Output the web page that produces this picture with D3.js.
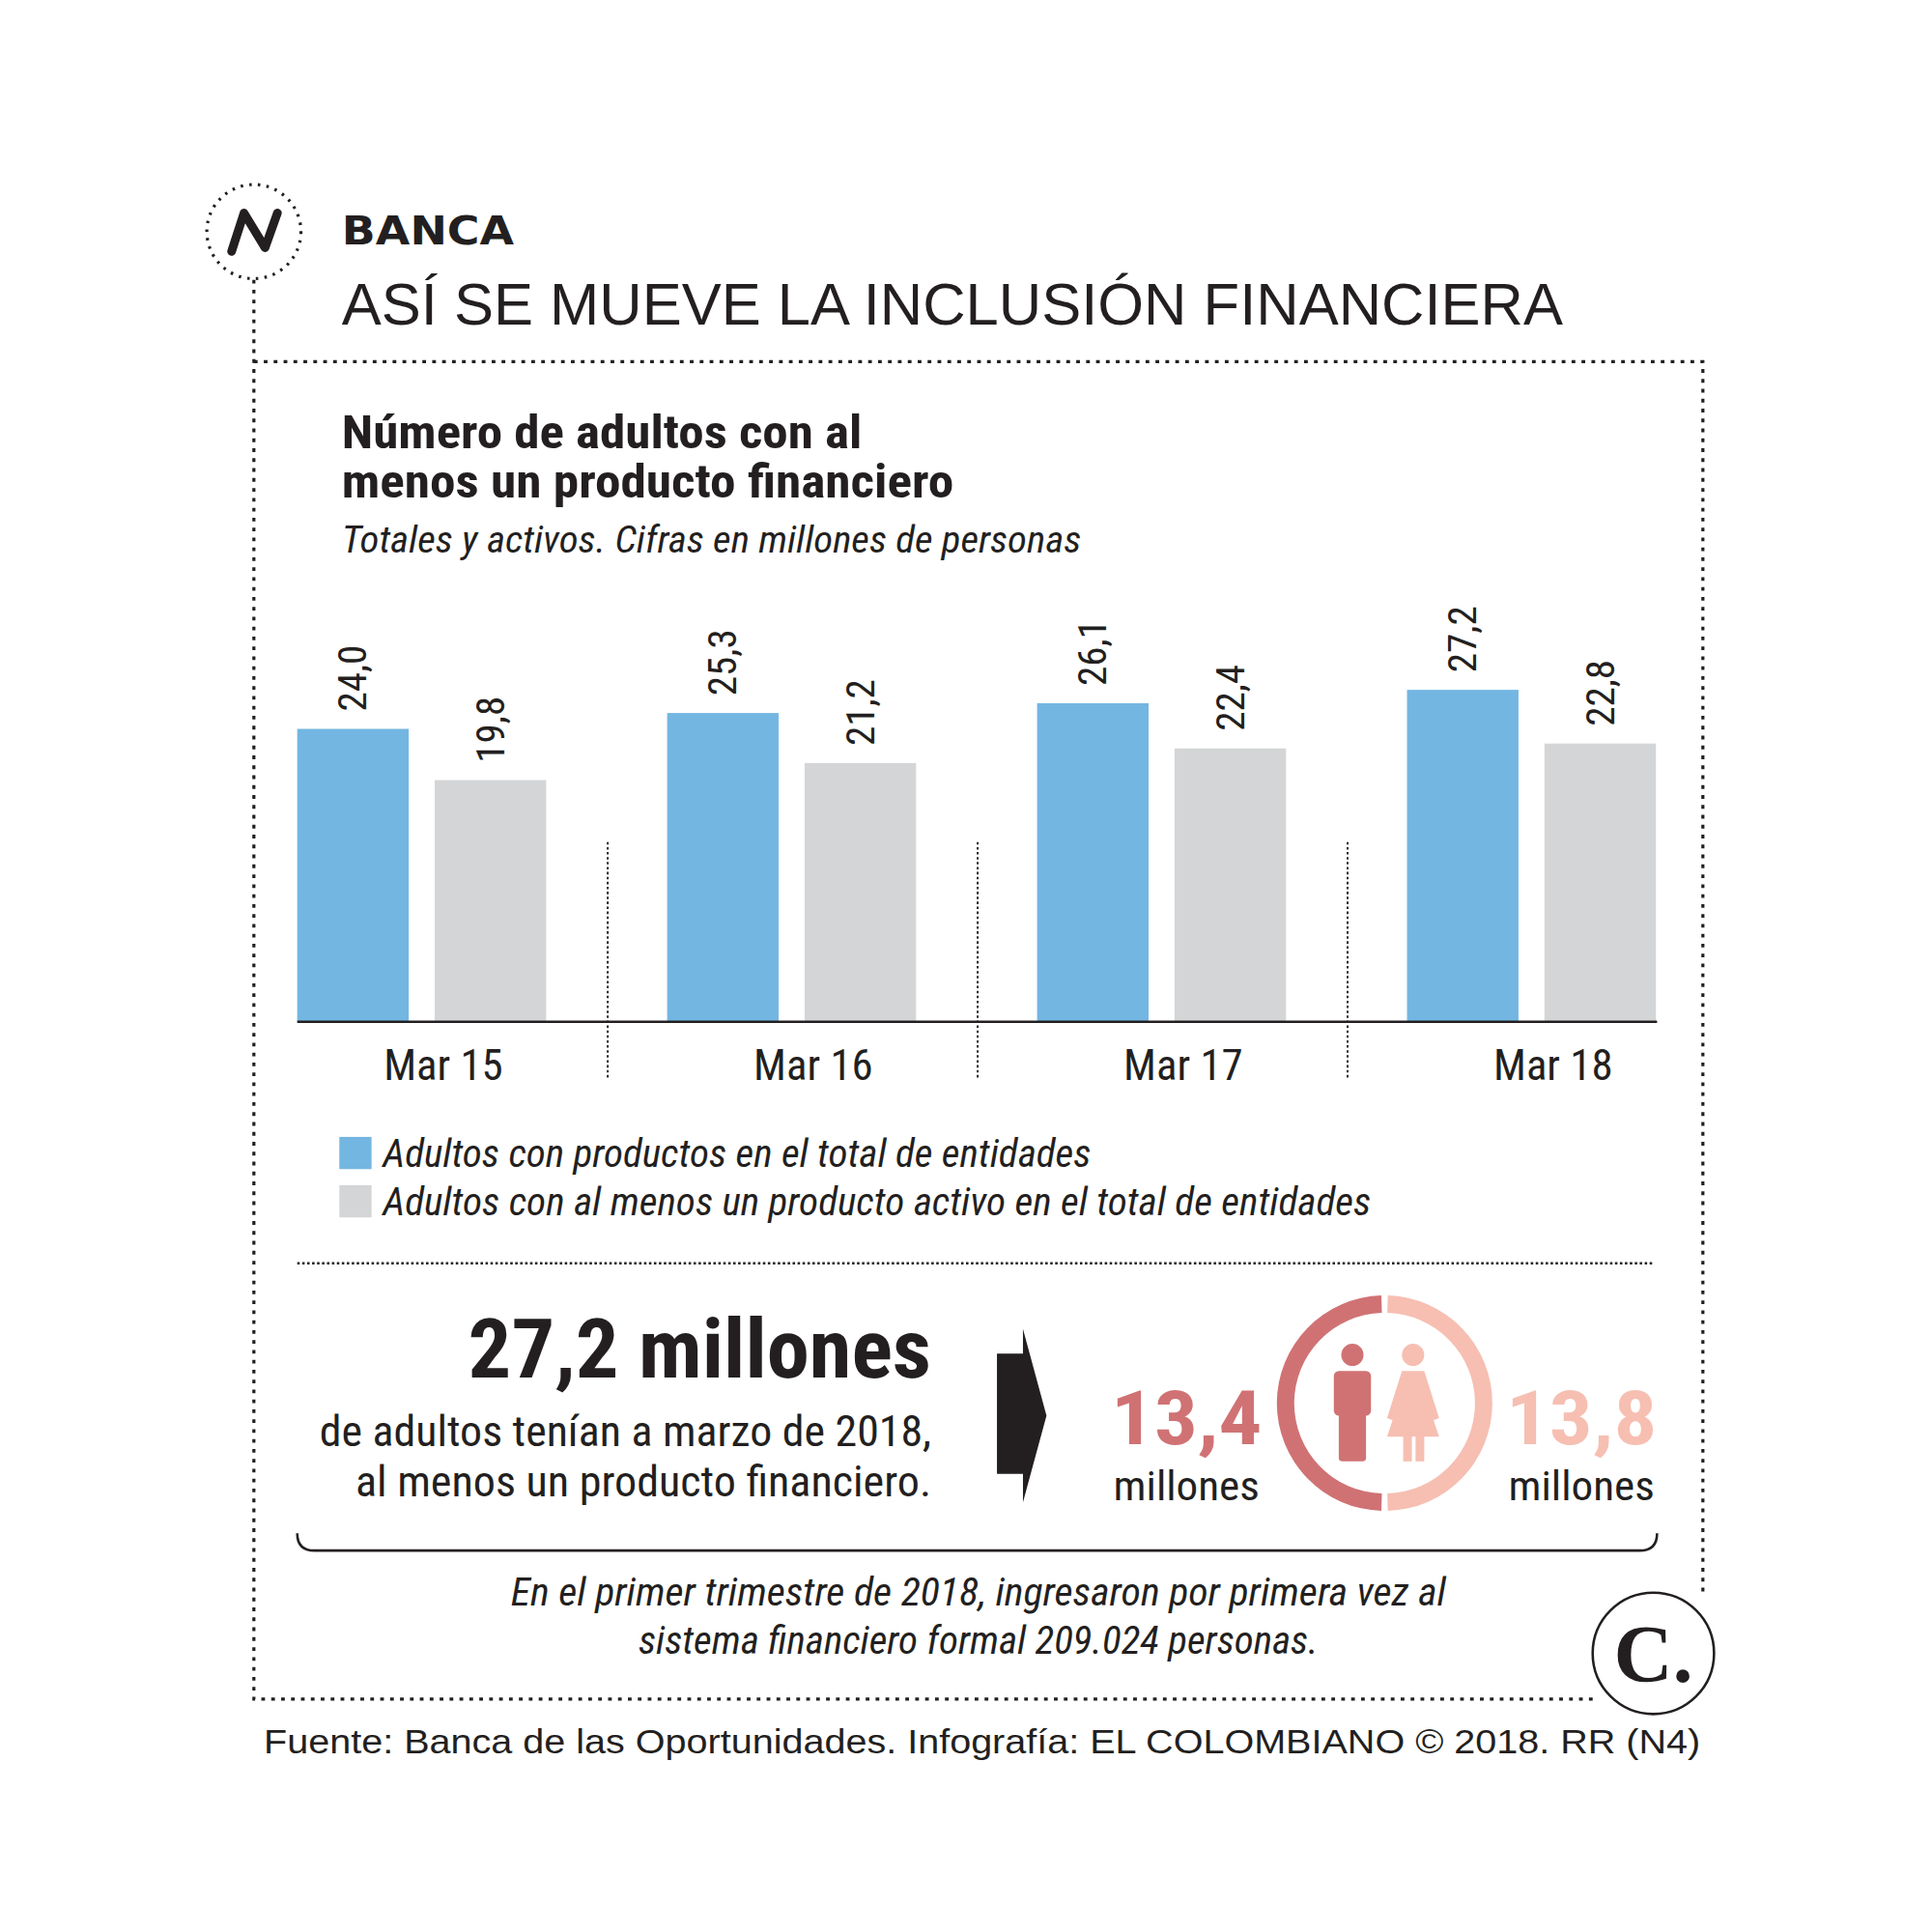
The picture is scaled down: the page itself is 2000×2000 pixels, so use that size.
<!DOCTYPE html>
<html><head><meta charset="utf-8">
<script src="https://cdn.jsdelivr.net/npm/d3@7"></script>
<style>body{margin:0;background:#fff}</style></head>
<body><svg id="c" width="2000" height="2000" viewBox="0 0 1560 1560"></svg>
<script>
const categories=["Mar 15","Mar 16","Mar 17","Mar 18"];
const seriesNames=["Adultos con productos en el total de entidades","Adultos con al menos un producto activo en el total de entidades"];
const totales=[24.0,25.3,26.1,27.2];
const activos=[19.8,21.2,22.4,22.8];
const hombres=13.4, mujeres=13.8;
const colors=["#74b6e2","#d4d5d7"];
const fmt=v=>v.toFixed(1).replace(".",",");
const NARROW="'Liberation Sans Narrow','Roboto Condensed',Roboto,sans-serif";
const svg=d3.select("#c");
const blk="#231f20";

// header
svg.append("circle").attr("cx",205).attr("cy",187).attr("r",38).attr("fill","none").attr("stroke",blk).attr("stroke-width",2.5).attr("stroke-dasharray","2,5");
svg.append("path").attr("d","M187,203 L197,172 L214,200 L224,172").attr("fill","none").attr("stroke",blk).attr("stroke-width",7).attr("stroke-linecap","round").attr("stroke-linejoin","round");
svg.append("text").attr("x",276).attr("y",197).text("BANCA").attr("font-family","'DejaVu Sans',sans-serif").attr("font-weight","bold").attr("font-size",32).attr("fill",blk).attr("textLength",139);
svg.append("text").attr("x",276).attr("y",262).text("ASÍ SE MUEVE LA INCLUSIÓN FINANCIERA").attr("font-family","'Liberation Sans',Arial,sans-serif").attr("font-size",47.5).attr("fill",blk).attr("textLength",986);
// frame
svg.append("path").attr("d","M205,226 L205,1372 L1290,1372 M205,292 L1375,292 L1375,1290")
 .attr("stroke",blk).attr("stroke-width",2.5).attr("stroke-dasharray","3,5").attr("fill","none");
// chart title
const nt=svg.append("g").attr("font-family",NARROW).attr("font-weight","bold").attr("font-size",37).attr("fill",blk);
nt.append("text").attr("x",276).attr("y",362).text("Número de adultos con al").attr("textLength",420);
nt.append("text").attr("x",276).attr("y",402).text("menos un producto financiero").attr("textLength",494);
svg.append("text").attr("x",276).attr("y",446).text("Totales y activos. Cifras en millones de personas").attr("font-family",NARROW).attr("font-style","italic").attr("font-size",30).attr("fill",blk).attr("textLength",597);

// bars
const x0=d3.scaleBand().domain(categories).range([240,240+4*298.7]).padding(0);
const xg=d3.scaleBand().domain([0,1]).range([0,201]).paddingInner(0.189).paddingOuter(0);
const y=d3.scaleLinear().domain([0,27.2]).range([825,557]);
const data=categories.map((c,i)=>({c,v:[totales[i],activos[i]]}));
const g=svg.append("g");
data.forEach(d=>{
  d.v.forEach((v,j)=>{
    const bx=x0(d.c)+xg(j);
    g.append("rect").attr("x",bx).attr("y",y(v)).attr("width",xg.bandwidth()).attr("height",y(0)-y(v)).attr("fill",colors[j]);
    g.append("text").attr("transform",`translate(${bx+xg.bandwidth()/2+11},${y(v)-14}) rotate(-90)`).text(fmt(v)).attr("font-family",NARROW).attr("font-size",32).attr("fill",blk);
  });
  g.append("text").attr("x",x0(d.c)+118).attr("y",872).attr("text-anchor","middle").text(d.c).attr("font-family",NARROW).attr("font-size",35).attr("fill",blk);
});
g.append("line").attr("x1",240).attr("x2",1338).attr("y1",825).attr("y2",825).attr("stroke",blk).attr("stroke-width",2);
categories.slice(1).forEach(c=>{
  g.append("line").attr("x1",x0(c)-48).attr("x2",x0(c)-48).attr("y1",680).attr("y2",872).attr("stroke",blk).attr("stroke-width",1.5).attr("stroke-dasharray","2,2");
});
// legend
const legLen=[572,798];
seriesNames.forEach((s,i)=>{
  svg.append("rect").attr("x",274).attr("y",918+i*39).attr("width",26).attr("height",26).attr("fill",colors[i]);
  svg.append("text").attr("x",309).attr("y",942+i*39).text(s).attr("font-family",NARROW).attr("font-style","italic").attr("font-size",31).attr("fill",blk).attr("textLength",legLen[i]);
});
svg.append("line").attr("x1",240).attr("x2",1336).attr("y1",1020).attr("y2",1020).attr("stroke",blk).attr("stroke-width",2).attr("stroke-dasharray","2,2");

// bottom block
svg.append("text").attr("x",752).attr("y",1112).attr("text-anchor","end").text(fmt(totales[3])+" millones").attr("font-family",NARROW).attr("font-weight","bold").attr("font-size",66).attr("fill",blk).attr("textLength",374);
["de adultos tenían a marzo de 2018,","al menos un producto financiero."].forEach((t,i)=>
  svg.append("text").attr("x",752).attr("y",1168+i*40).attr("text-anchor","end").text(t).attr("font-family",NARROW).attr("font-size",35).attr("fill",blk).attr("textLength",[494,465][i]));
svg.append("path").attr("d","M805,1093 L826,1093 L826,1073 L845,1143 L826,1213 L826,1190 L805,1190 Z").attr("fill",blk);
const cM="#d07274", cW="#f6bfb2";
[[hombres,958,cM],[mujeres,1277,cW]].forEach(([v,cx,col])=>{
  svg.append("text").attr("x",cx).attr("y",1166).attr("text-anchor","middle").text(fmt(v)).attr("font-family",NARROW).attr("font-weight","bold").attr("font-size",60).attr("fill",col).attr("textLength",122);
  svg.append("text").attr("x",cx).attr("y",1211).attr("text-anchor","middle").text("millones").attr("font-family",NARROW).attr("font-size",33).attr("fill",blk).attr("textLength",118);
});
const arc=d3.arc().innerRadius(73).outerRadius(87);
const cg=svg.append("g").attr("transform","translate(1118,1133)");
cg.append("path").attr("d",arc({startAngle:Math.PI+0.03,endAngle:2*Math.PI-0.03})).attr("fill",cM);
cg.append("path").attr("d",arc({startAngle:0.03,endAngle:Math.PI-0.03})).attr("fill",cW);
const man=svg.append("g").attr("fill",cM);
man.append("circle").attr("cx",1092).attr("cy",1094).attr("r",9);
man.append("rect").attr("x",1077).attr("y",1107).attr("width",30).attr("height",36).attr("rx",4);
man.append("rect").attr("x",1081).attr("y",1130).attr("width",22).attr("height",50).attr("rx",3);
const wo=svg.append("g").attr("fill",cW);
wo.append("circle").attr("cx",1141).attr("cy",1094).attr("r",9);
wo.append("path").attr("d","M1132,1107 L1150,1107 L1162,1145 L1157,1147 L1152,1130 L1162,1160 L1120,1160 L1130,1130 L1125,1147 L1120,1145 Z");
wo.append("rect").attr("x",1133).attr("y",1158).attr("width",7).attr("height",22);
wo.append("rect").attr("x",1143).attr("y",1158).attr("width",7).attr("height",22);
svg.append("path").attr("d","M240,1238 Q240,1252 254,1252 L1324,1252 Q1338,1252 1338,1238").attr("fill","none").attr("stroke",blk).attr("stroke-width",2);
["En el primer trimestre de 2018, ingresaron por primera vez al","sistema financiero formal 209.024 personas."].forEach((t,i)=>
  svg.append("text").attr("x",790).attr("y",1296+i*39).attr("text-anchor","middle").text(t).attr("font-family",NARROW).attr("font-style","italic").attr("font-size",31).attr("fill",blk).attr("textLength",[755,549][i]));
svg.append("circle").attr("cx",1335).attr("cy",1335).attr("r",49).attr("fill","#fff").attr("stroke",blk).attr("stroke-width",2);
svg.append("text").attr("x",1335).attr("y",1358).attr("text-anchor","middle").text("C.").attr("font-family","'Liberation Serif',serif").attr("font-weight","bold").attr("font-size",66).attr("fill",blk);
svg.append("text").attr("x",213).attr("y",1416).text("Fuente: Banca de las Oportunidades. Infografía: EL COLOMBIANO © 2018. RR (N4)").attr("font-family","'Liberation Sans',Arial,sans-serif").attr("font-size",28).attr("fill",blk).attr("textLength",1160);
svg.selectAll("text[textLength]").attr("lengthAdjust","spacingAndGlyphs");
</script></body></html>
